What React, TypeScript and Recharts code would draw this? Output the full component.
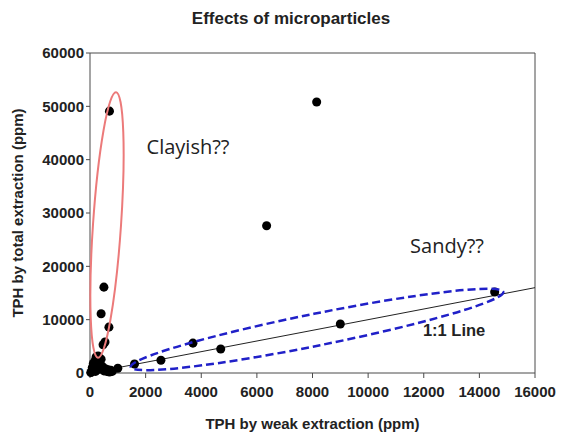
import { ReferenceDot, ReferenceLine, Scatter, ScatterChart, XAxis, YAxis } from "recharts";

// TPH readings: weak extraction (x) vs total extraction (y), ppm
const weakPpm = [
  700, 8150, 6350, 14550, 9000, 500, 400, 680, 540, 470, 290, 1000, 1600, 2550, 3700, 4700,
  50, 100, 150, 200, 250, 300, 350, 400, 450, 120, 80, 180, 500, 550, 600, 650, 700, 750, 800, 30, 220, 260,
];
const totalPpm = [
  49100, 50800, 27600, 15200, 9200, 16100, 11100, 8600, 5800, 5300, 3200, 900, 1700, 2400, 5600, 4500,
  200, 500, 900, 300, 1500, 700, 2000, 2600, 1200, 1800, 1000, 2300, 400, 800, 300, 600, 200, 500, 300, 100, 3000, 2800,
];

const xTicks = [0, 2000, 4000, 6000, 8000, 10000, 12000, 14000, 16000];
const yTicks = [0, 10000, 20000, 30000, 40000, 50000, 60000];

const points = weakPpm.map((x, i) => ({ x, y: totalPpm[i] }));

const axisColor = "#4a4a4a";
const tickStyle = { fontSize: 15, fontWeight: 700, fill: "#222", fontFamily: "Liberation Sans, Arial" };

const RedEllipse = (p: any) => (
  <ellipse
    cx={p.cx}
    cy={p.cy}
    rx={14}
    ry={133}
    transform={`rotate(3.9 ${p.cx} ${p.cy})`}
    fill="none"
    stroke="#ec7a7a"
    strokeWidth={2}
  />
);

const BlueEllipse = (p: any) => (
  <ellipse
    cx={p.cx}
    cy={p.cy}
    rx={190}
    ry={16}
    transform={`rotate(-11.4 ${p.cx} ${p.cy})`}
    fill="none"
    stroke="#2020c8"
    strokeWidth={2.5}
    strokeDasharray="8 4"
  />
);

const note = (text: string, size: number, bold: boolean, font: string) => (p: any) => (
  <text
    x={p.cx}
    y={p.cy}
    textAnchor="middle"
    dominantBaseline="central"
    fontSize={size}
    fontWeight={bold ? 700 : 400}
    fontFamily={font}
    fill="#222"
  >
    {text}
  </text>
);

export default function App() {
  return (
    <div style={{ position: "relative", width: 561, height: 433 }}>
      <div
        style={{
          position: "absolute",
          top: 1,
          left: 0,
          width: 566,
          textAlign: "center",
          fontFamily: "Liberation Sans, Arial",
          fontWeight: 700,
          fontSize: 17,
          color: "#222",
        }}
      >
        Effects of microparticles
      </div>
      <ScatterChart width={561} height={433} margin={{ top: 45, right: 34, bottom: 8, left: 0 }}>
        <XAxis
          type="number"
          dataKey="x"
          domain={[0, 16000]}
          ticks={xTicks}
          interval={0}
          height={60}
          stroke={axisColor}
          tickSize={5}
          tickMargin={8}
          tick={tickStyle}
          label={{
            content: ({ viewBox }: any) => (
              <text
                x={viewBox.x + viewBox.width / 2}
                y={viewBox.y + 50}
                textAnchor="middle"
                dominantBaseline="central"
                fontSize={15}
                fontWeight={700}
                fontFamily="Liberation Sans, Arial"
                fill="#222"
              >
                TPH by weak extraction (ppm)
              </text>
            ),
          }}
        />
        <YAxis
          type="number"
          dataKey="y"
          domain={[0, 60000]}
          ticks={yTicks}
          interval={0}
          width={82}
          stroke={axisColor}
          tickSize={4}
          tickMargin={2}
          tick={tickStyle}
          label={{
            content: ({ viewBox }: any) => (
              <text
                transform={`translate(${viewBox.x + 9}, ${viewBox.y + viewBox.height / 2}) rotate(-90)`}
                textAnchor="middle"
                dominantBaseline="central"
                fontSize={15}
                fontWeight={700}
                fontFamily="Liberation Sans, Arial"
                fill="#222"
              >
                TPH by total extraction (ppm)
              </text>
            ),
          }}
        />
        <ReferenceLine y={60000} stroke={axisColor} />
        <ReferenceLine x={16000} stroke={axisColor} />
        <ReferenceLine
          segment={[
            { x: 0, y: 0 },
            { x: 16000, y: 16000 },
          ]}
          stroke="#222"
          strokeWidth={1}
        />
        <Scatter data={points} fill="#000" isAnimationActive={false} />
        <ReferenceDot x={611} y={27750} shape={RedEllipse} />
        <ReferenceDot x={8163} y={8156} shape={BlueEllipse} />
        <ReferenceDot x={3524} y={42560} shape={note("Clayish??", 20, false, "Open Sans")} />
        <ReferenceDot x={12838} y={24000} shape={note("Sandy??", 20, false, "Open Sans")} />
        <ReferenceDot x={13090} y={8060} shape={note("1:1 Line", 16.5, true, "Liberation Sans, Arial")} />
      </ScatterChart>
    </div>
  );
}
